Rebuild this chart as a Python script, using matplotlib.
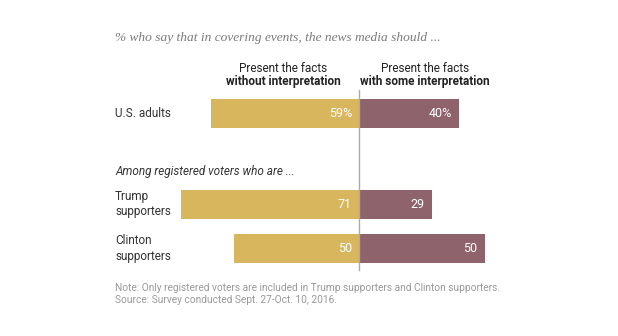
import matplotlib.pyplot as plt

groups = ['U.S. adults', 'Trump\nsupporters', 'Clinton\nsupporters']
without_interp = [59, 71, 50]
with_interp = [40, 29, 50]
value_labels_left = ['59%', '71', '50']
value_labels_right = ['40%', '29', '50']

gold = '#D7B65D'
mauve = '#8E636B'

W, H = 618, 336
fig = plt.figure(figsize=(W / 100, H / 100), dpi=100)
ax = fig.add_axes([0, 0, 1, 1])

# x in percent units, y in pixel rows
center_px = 359
px_per_unit = 2.51
ax.set_xlim(-center_px / px_per_unit, (W - center_px) / px_per_unit)
ax.set_ylim(H, 0)
ax.axis('off')

y_pos = [113.5, 204, 248.5]
bar_h = 29

ax.barh(y_pos, [-v for v in without_interp], height=bar_h, color=gold)
ax.barh(y_pos, with_interp, height=bar_h, color=mauve)
ax.plot([0, 0], [90, 270], color='#aaaaaa', lw=1)

sans = 'Roboto'
for y, l, r, lv, rv in zip(y_pos, without_interp, with_interp, value_labels_left, value_labels_right):
    ax.text(-2.8, y, lv, ha='right', va='center', color='white', fontsize=9, family=sans)
    ax.text(r - 2.8, y, rv, ha='right', va='center', color='white', fontsize=9, family=sans)

def px(x, y, s, **kw):
    fig.text(x / W, 1 - y / H, s, **kw)

px(115, 38, '% who say that in covering events, the news media should ...',
   family='Liberation Serif', style='italic', fontsize=9.6, color='#7a7a7a', va='center')

px(283, 68, 'Present the facts', ha='center', va='center', fontsize=8.5, family=sans, color='#222222')
px(283, 82, 'without interpretation', ha='center', va='center', fontsize=8.5, family=sans,
   weight='bold', color='#222222')
px(425, 68, 'Present the facts', ha='center', va='center', fontsize=8.5, family=sans, color='#222222')
px(425, 82, 'with some interpretation', ha='center', va='center', fontsize=8.5, family=sans,
   weight='bold', color='#222222')

px(115, 172, 'Among registered voters who are ...', family=sans, style='italic',
   fontsize=8.5, color='#333333', va='center')

for g, y in zip(groups, y_pos):
    px(115, y, g, family=sans, fontsize=8.5, color='#333333', va='center', linespacing=1.25)

px(115, 288, 'Note: Only registered voters are included in Trump supporters and Clinton supporters.',
   family=sans, fontsize=7.3, color='#999999', va='center')
px(115, 300, 'Source: Survey conducted Sept. 27-Oct. 10, 2016.',
   family=sans, fontsize=7.3, color='#999999', va='center')

fig.savefig('out.png', dpi=100, facecolor='white')
